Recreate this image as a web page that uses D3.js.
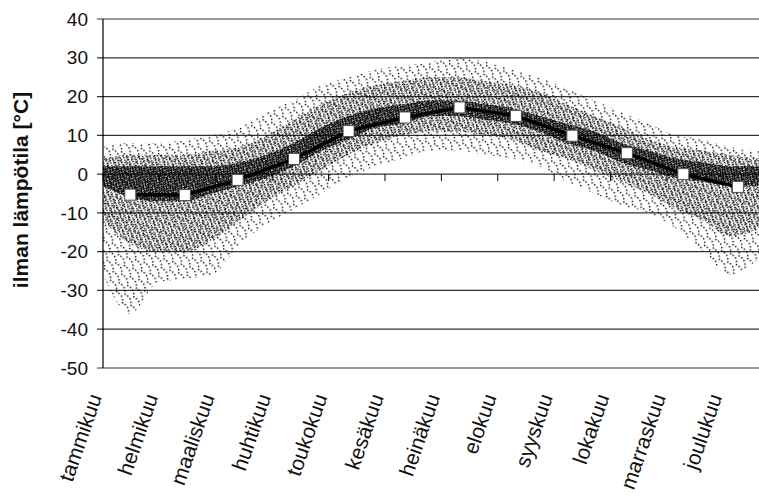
<!DOCTYPE html>
<html>
<head>
<meta charset="utf-8">
<script src="https://cdn.jsdelivr.net/npm/d3@7"></script>
<style>
  body { margin: 0; background: #fff; }
  svg { display: block; font-family: Arial, "Liberation Sans", sans-serif; }
</style>
</head>
<body>
<div id="viz"></div>
<script>
const width = 759,
    height = 497;

// month names (x labels)
const months = ["tammikuu", "helmikuu", "maaliskuu", "huhtikuu", "toukokuu", "kesäkuu",
    "heinäkuu", "elokuu", "syyskuu", "lokakuu", "marraskuu", "joulukuu"];

// monthly mean temperature, read at mid-month day
const meanDays = [15, 45, 74, 105, 135, 166, 196, 227, 258, 288, 319, 349];
const meanTemp = [-5.3, -5.4, -1.5, 3.9, 11.1, 14.6, 17.2, 15.0, 9.9, 5.4, 0.0, -3.3];

// envelope of daily scatter (day of year)
const envDays = [0, 15, 30, 45, 60, 75, 90, 105, 120, 135, 150, 165, 180,
    195, 210, 225, 240, 255, 270, 285, 300, 315, 330, 345, 360, 365];
const outerHi = [7, 8, 8, 9, 10, 12, 16, 19, 23, 25, 27, 28, 29, 30, 29, 27, 25, 22, 19, 16, 13, 10, 9, 7, 6, 6];
const outerLo = [-26, -36, -28, -27, -26, -18, -13, -9, -5, -1, 2, 4, 6, 6, 5, 4, 2, -2, -5, -8, -10, -14, -20, -26, -22, -20];
const midHi = [4, 5, 5, 5, 6, 7, 10, 14, 18, 21, 23, 24, 25, 25, 24, 23, 21, 18, 15, 12, 9, 7, 6, 5, 4, 4];
const midLo = [-12, -18, -20, -20, -17, -12, -7, -3, 1, 5, 8, 10, 11, 11, 10, 9, 6, 4, 1, -2, -5, -9, -12, -16, -14, -12];
const coreHi = [2, 2, 2, 2, 2, 3, 5, 8, 12, 15, 17, 18, 19, 19, 18, 17, 15, 13, 11, 8, 6, 4, 3, 2, 2, 2];
const coreLo = [-3, -6, -7, -7, -5, -3, -1, 2, 6, 9, 12, 13, 15, 15, 14, 13, 11, 8, 6, 3, 1, -1, -2, -3, -3, -3];

const yTicks = [40, 30, 20, 10, 0, -10, -20, -30, -40, -50];

const x = d3.scaleLinear().domain([0, 365]).range([103, 767]);
const y = d3.scaleLinear().domain([-50, 40]).range([368, 19]);

const svg = d3.select("#viz").append("svg")
    .attr("width", width)
    .attr("height", height);

// dot patterns to imitate the scatter density
const defs = svg.append("defs");
function dotPattern(id, size, dots, angle) {
    const p = defs.append("pattern")
        .attr("id", id)
        .attr("patternUnits", "userSpaceOnUse")
        .attr("width", size)
        .attr("height", size)
        .attr("patternTransform", "rotate(" + angle + ")");
    dots.forEach(d => {
        p.append("rect").attr("x", d[0]).attr("y", d[1])
            .attr("width", 1.4).attr("height", 1.4).attr("fill", "#000");
    });
}
dotPattern("sparse", 9, [[1, 2], [6, 7], [4, 4], [7, 1]], 17);
dotPattern("mid", 5, [[0, 1], [3, 0], [2, 3], [4, 4]], 23);
dotPattern("dense", 4, [[0, 0], [2, 1], [1, 2], [3, 3], [0, 3], [2, 0], [3, 2]], 31);

// grid lines
svg.append("g")
    .selectAll("line")
    .data(yTicks)
    .join("line")
    .attr("x1", 97)
    .attr("x2", width)
    .attr("y1", d => y(d))
    .attr("y2", d => y(d))
    .attr("stroke", "#333")
    .attr("stroke-width", 1.2);

// scatter envelopes
const bands = [
    { fill: "url(#sparse)", hi: outerHi, lo: outerLo },
    { fill: "url(#mid)", hi: midHi, lo: midLo },
    { fill: "url(#dense)", hi: coreHi, lo: coreLo }
];
const area = d3.area().curve(d3.curveMonotoneX);
bands.forEach(b => {
    svg.append("path")
        .datum(envDays.map((d, i) => [d, b.lo[i], b.hi[i]]))
        .attr("fill", b.fill)
        .attr("d", area.x(d => x(d[0])).y0(d => y(d[1])).y1(d => y(d[2])));
});

// y axis
svg.append("line")
    .attr("x1", 103).attr("x2", 103)
    .attr("y1", y(40)).attr("y2", y(-50))
    .attr("stroke", "#000").attr("stroke-width", 1.2);

svg.append("g")
    .selectAll("text")
    .data(yTicks)
    .join("text")
    .attr("x", 88)
    .attr("y", d => y(d))
    .attr("dy", "0.35em")
    .attr("text-anchor", "end")
    .attr("font-size", 19)
    .attr("fill", "#111")
    .text(d => d);

svg.append("text")
    .attr("transform", "translate(28," + 190 + ") rotate(-90)")
    .attr("text-anchor", "middle")
    .attr("font-size", 21)
    .attr("font-weight", "bold")
    .attr("fill", "#111")
    .text("ilman lämpötila [°C]");

// x axis ticks on the zero line
svg.append("g")
    .selectAll("line")
    .data(d3.range(0, 366, 31))
    .join("line")
    .attr("x1", d => x(d)).attr("x2", d => x(d))
    .attr("y1", y(0)).attr("y2", y(0) + 7)
    .attr("stroke", "#000");

// month labels
svg.append("g")
    .selectAll("text")
    .data(months)
    .join("text")
    .attr("transform", (d, i) => "translate(" + (x(i * 31) - 1) + ",397) rotate(-71)")
    .attr("text-anchor", "end")
    .attr("font-size", 21)
    .attr("fill", "#111")
    .text(d => d);

// monthly mean line + markers
const line = d3.line().x((d, i) => x(meanDays[i])).y(d => y(d));
svg.append("path")
    .datum(meanTemp)
    .attr("fill", "none")
    .attr("stroke", "#000")
    .attr("stroke-width", 3.5)
    .attr("d", line);

svg.append("g")
    .selectAll("rect")
    .data(meanTemp)
    .join("rect")
    .attr("x", (d, i) => x(meanDays[i]) - 5.5)
    .attr("y", d => y(d) - 5.5)
    .attr("width", 11)
    .attr("height", 11)
    .attr("fill", "#fff")
    .attr("stroke", "#555")
    .attr("stroke-width", 1);
</script>
</body>
</html>
